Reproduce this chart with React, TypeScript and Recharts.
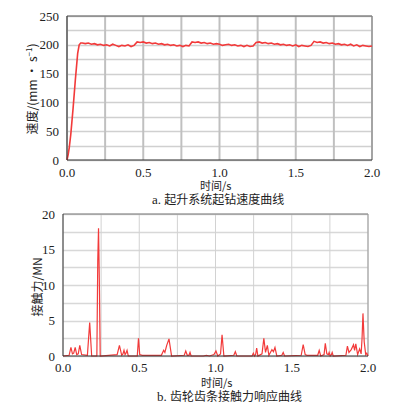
import { LineChart, Line, XAxis, YAxis, ReferenceLine, CartesianGrid } from 'recharts';

// 起钻速度 (mm/s)
const speedRampTime = [0, 0.008, 0.015, 0.025, 0.04, 0.055, 0.07, 0.08, 0.09];
const speedRampValue = [0, 10, 22, 45, 90, 140, 185, 200, 203];
const speedStart = 0.1;
const speedStep = 0.02;
const speedPlateau = [
  203, 202, 203, 201, 202, 200, 201, 199, 200, 198, 201, 199, 197, 199, 198, 200, 197, 199,
  205, 204, 205, 203, 204, 202, 203, 201, 202, 200, 201, 199, 200, 198, 199, 197, 199, 198,
  205, 204, 205, 203, 204, 202, 203, 201, 202, 201, 199, 200, 201, 199, 200, 198, 199, 197, 199, 197, 198,
  204, 205, 203, 204, 202, 203, 201, 202, 200, 201, 199, 200, 198, 200, 197, 199, 198, 197, 199,
  206, 204, 205, 203, 204, 202, 203, 201, 202, 200, 201, 199, 201, 198, 200, 197, 199, 198, 197, 198,
];

// 接触力 (MN)
const forceTime = [
  0, 0.04, 0.052, 0.062, 0.07, 0.08, 0.09, 0.1, 0.11, 0.122, 0.16, 0.175, 0.188,
  0.222, 0.228, 0.233, 0.238, 0.244, 0.355, 0.37, 0.385, 0.393, 0.4, 0.407, 0.413, 0.42, 0.428,
  0.487, 0.495, 0.503, 0.52, 0.645, 0.66, 0.668, 0.68, 0.695, 0.712, 0.795, 0.805, 0.815, 0.826,
  0.833, 0.84, 0.92, 0.94, 0.96, 0.99, 1.003, 1.015, 1.033, 1.043, 1.055, 1.12, 1.13, 1.14,
  1.24, 1.248, 1.256, 1.263, 1.27, 1.278, 1.305, 1.317, 1.328, 1.34, 1.35, 1.36, 1.37, 1.38,
  1.39, 1.402, 1.435, 1.444, 1.453, 1.562, 1.575, 1.588, 1.6, 1.67, 1.68, 1.69, 1.712, 1.72,
  1.73, 1.74, 1.745, 1.752, 1.76, 1.765, 1.772, 1.855, 1.865, 1.875, 1.89, 1.905, 1.912, 1.92,
  1.932, 1.945, 1.955, 1.961, 1.967, 1.975, 1.985, 1.992, 2.0,
];
const forceValue = [
  0, 0.1, 1.2, 0.3, 0.4, 1.2, 0.2, 0.3, 1.5, 0.2, 0.1, 4.7, 0,
  0, 13.5, 18, 11, 0, 0.2, 1.5, 0.1, 0.3, 0.8, 0.2, 0.4, 0.8, 0,
  0, 2.5, 0.2, 0.1, 0.1, 0.8, 0.5, 1.5, 2.4, 0, 0.1, 0.7, 0.1, 0.1,
  0.5, 0, 0, 0.1, 0, 0.2, 0.7, 0, 0.3, 3.0, 0, 0.1, 0.6, 0,
  0, 0.4, 0, 0.2, 1.1, 0, 0.3, 2.5, 0.5, 1.5, 0.1, 0.5, 0.9, 0.6,
  1.2, 0, 0.1, 0.5, 0, 0.1, 1.6, 0.2, 0.1, 0.1, 0.8, 0, 0.2, 1.8,
  0.3, 0.2, 0.5, 0, 0.2, 0.5, 0, 0.1, 1.4, 0.5, 0.9, 1.6, 0.8, 1.7,
  0.2, 1.0, 0.3, 2.5, 6.0, 2.0, 0.2, 0.4, 0,
];

// ticks incl. minor ones (labels only on the major ones)
const xTicks = [0, 0.25, 0.5, 0.75, 1, 1.25, 1.5, 1.75, 2];
const speedTicks = [0, 25, 50, 75, 100, 125, 150, 175, 200, 225, 250];
const forceTicks = [0, 2.5, 5, 7.5, 10, 12.5, 15, 17.5, 20];

const speedData = [
  ...speedRampTime.map((t, i) => ({ t, v: speedRampValue[i] })),
  ...speedPlateau.map((v, i) => ({ t: +(speedStart + i * speedStep).toFixed(2), v })),
];
const forceData = forceTime.map((t, i) => ({ t, v: forceValue[i] }));

const serif = '"Liberation Serif", "DejaVu Serif", serif';
const cjk = '"Noto Sans CJK SC", sans-serif';
const tick = { fontSize: 13, fill: '#222', fontFamily: serif };
const red = '#f23a3a';

const fmtX = (v: number) => (Math.round(v * 100) % 50 === 0 ? v.toFixed(1) : '');
const fmtSpeed = (v: number) => (v % 50 === 0 ? String(v) : '');
const fmtForce = (v: number) => (v % 5 === 0 ? String(v) : '');

// horizontal grid rows from the plot offset
const rows = (ticks: number[], max: number) => (props: any) => {
  const o = props && props.offset;
  if (!o) return [];
  return ticks.map((v) => Math.round(o.top + o.height * (1 - v / max)) + 0.5);
};

const textStyle: React.CSSProperties = {
  position: 'absolute',
  fontFamily: cjk,
  fontSize: 12,
  color: '#222',
  whiteSpace: 'nowrap',
  lineHeight: '12px',
};

export default function App() {
  return (
    <div style={{ position: 'absolute', left: 0, top: 0, width: 406, height: 406, background: '#fff' }}>
      <div style={{ position: 'absolute', left: 0, top: 0 }}>
        <LineChart width={406} height={184} data={speedData} margin={{ top: 16, right: 34, bottom: 0, left: 0 }}>
          <CartesianGrid
            vertical={false} stroke="#d0d0d0" strokeWidth={1.5}
            horizontalCoordinatesGenerator={rows(speedTicks, 250)}
          />
          <CartesianGrid horizontal={false} stroke="#c0c0c0" strokeWidth={2} />
          <XAxis
            dataKey="t" type="number" domain={[0, 2]} ticks={xTicks}
            tickFormatter={fmtX}
            tick={tick} tickLine={false} axisLine={{ stroke: '#333' }}
            height={24} tickMargin={2} interval={0}
          />
          <YAxis
            type="number" domain={[0, 250]} ticks={speedTicks}
            tickFormatter={fmtSpeed}
            tick={tick} tickLine={false} axisLine={{ stroke: '#333' }}
            width={67} tickMargin={2} interval={0}
          />
          <ReferenceLine y={250} stroke="#555" strokeWidth={1} />
          <ReferenceLine x={2} stroke="#888" strokeWidth={1} />
          <Line
            type="linear" dataKey="v" stroke={red} strokeWidth={1.6}
            dot={false} isAnimationActive={false}
          />
        </LineChart>
      </div>
      <div style={{ ...textStyle, left: 31, top: 89, transform: 'translate(-50%, -50%) rotate(-90deg)' }}>
        速度/(mm • s<sup style={{ fontSize: 8, lineHeight: '8px' }}>−1</sup>)
      </div>
      <div style={{ ...textStyle, left: 200, top: 180, fontSize: 11, lineHeight: '11px' }}>时间/s</div>
      <div style={{ ...textStyle, left: 152, top: 193 }}>
        <span style={{ fontFamily: serif, fontSize: 13 }}>a. </span>起升系统起钻速度曲线
      </div>

      <div style={{ position: 'absolute', left: 0, top: 198 }}>
        <LineChart width={406} height={182} data={forceData} margin={{ top: 16, right: 38, bottom: 0, left: 0 }}>
          <CartesianGrid
            vertical={false} stroke="#d8d8d8" strokeWidth={1.5}
            horizontalCoordinatesGenerator={rows(forceTicks, 20)}
          />
          <CartesianGrid horizontal={false} stroke="#d2d2d2" strokeWidth={1} />
          <XAxis
            dataKey="t" type="number" domain={[0, 2]} ticks={xTicks}
            tickFormatter={fmtX}
            tick={tick} tickLine={false} axisLine={{ stroke: '#333' }}
            height={24} tickMargin={1} interval={0}
          />
          <YAxis
            type="number" domain={[0, 20]} ticks={forceTicks}
            tickFormatter={fmtForce}
            tick={tick} tickLine={false} axisLine={{ stroke: '#333' }}
            width={63} tickMargin={2} interval={0}
          />
          <ReferenceLine y={20} stroke="#777" strokeWidth={1} />
          <ReferenceLine x={2} stroke="#999" strokeWidth={1} />
          <Line
            type="linear" dataKey="v" stroke={red} strokeWidth={1.2}
            dot={false} isAnimationActive={false}
          />
        </LineChart>
      </div>
      <div style={{ ...textStyle, left: 37, top: 287, transform: 'translate(-50%, -50%) rotate(-90deg)' }}>
        接触力/MN
      </div>
      <div style={{ ...textStyle, left: 201, top: 377, fontSize: 11, lineHeight: '11px' }}>时间/s</div>
      <div style={{ ...textStyle, left: 157, top: 390 }}>
        <span style={{ fontFamily: serif, fontSize: 13 }}>b. </span>齿轮齿条接触力响应曲线
      </div>
    </div>
  );
}
